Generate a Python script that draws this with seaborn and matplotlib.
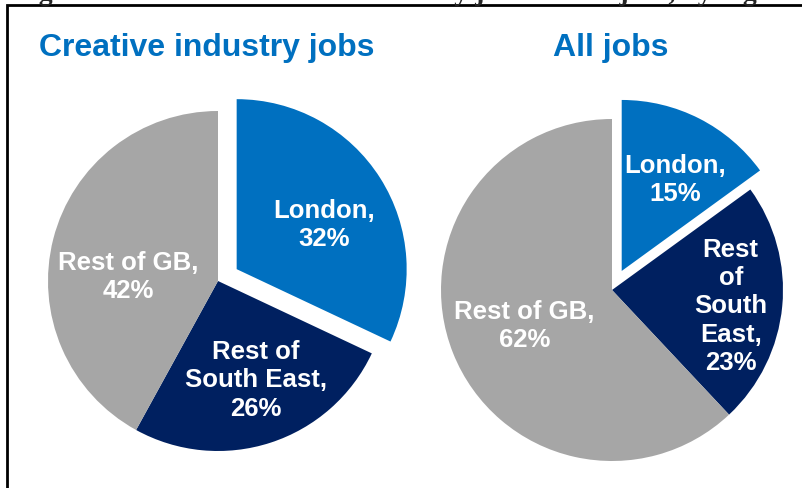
import matplotlib
matplotlib.use('Agg')
import matplotlib.pyplot as plt
import matplotlib.patches as mpatches
import numpy as np
import seaborn as sns

# data
regions = ['London', 'Rest of South East', 'Rest of GB']
creative_shares = [32, 26, 42]
all_shares = [15, 23, 62]
creative_labels = ['London,\n32%', 'Rest of\nSouth East,\n26%', 'Rest of GB,\n42%']
all_labels = ['London,\n15%', 'Rest\nof\nSouth\nEast,\n23%', 'Rest of GB,\n62%']
titles = ['Creative industry jobs', 'All jobs']
fig_title = 'Figure 4.1: Shares of creative industry jobs and all jobs, by region'

sns.set_theme(style='white')
plt.rcParams['font.family'] = ['Liberation Sans', 'DejaVu Sans']
colors = sns.color_palette(['#0070C0', '#002060', '#A6A6A6'])

W, H = 802, 489
fig = plt.figure(figsize=(W / 100, H / 100), dpi=100)
fig.patch.set_facecolor('white')


def px_axes(cx, cy, r, span=1.25):
    # square axes centred on (cx, cy) in pixels from the top-left
    size = 2 * span * r
    ax = fig.add_axes([(cx - size / 2) / W, (H - cy - size / 2) / H, size / W, size / H])
    return ax


def draw_pie(ax, shares, labels, dist, dang, explode_amt):
    wedges, _ = ax.pie(shares, colors=colors, startangle=90, counterclock=False,
                       explode=[explode_amt, 0, 0],
                       wedgeprops=dict(linewidth=0))
    for w, lab, d, da in zip(wedges, labels, dist, dang):
        ang = np.deg2rad((w.theta1 + w.theta2) / 2 + da)
        x = w.center[0] + d * np.cos(ang)
        y = w.center[1] + d * np.sin(ang)
        ax.text(x, y, lab, ha='center', va='center', color='white',
                fontsize=18.5, fontweight='bold', linespacing=1.22)
    ax.set_xlim(-1.25, 1.25)
    ax.set_ylim(-1.25, 1.25)
    ax.set_aspect('equal')
    ax.axis('off')


ax1 = px_axes(218, 282, 170)
draw_pie(ax1, creative_shares, creative_labels, [0.58, 0.62, 0.53], [-5, 3, 11], 0.13)

ax2 = px_axes(612, 291, 171)
draw_pie(ax2, all_shares, all_labels, [0.62, 0.70, 0.55], [-3, -2, 0], 0.125)

# panel titles
for t, cx in zip(titles, [207, 611]):
    fig.text(cx / W, (H - 56) / H, t, ha='center', va='baseline', color='#0070C0',
             fontsize=23, fontweight='bold')

# clipped figure caption above the box
fig.text(14 / W, (H - 0.5) / H, fig_title, ha='left', va='baseline', fontsize=20,
         fontweight='bold', family=['Liberation Serif', 'DejaVu Serif'])

# border box (left and top edges visible)
box = mpatches.Rectangle((7 / W, -0.1), 1.1, (H - 6) / H + 0.1, transform=fig.transFigure,
                         fill=False, edgecolor='black', linewidth=2, clip_on=False)
fig.patches.append(box)

fig.savefig('out.png', dpi=100)
